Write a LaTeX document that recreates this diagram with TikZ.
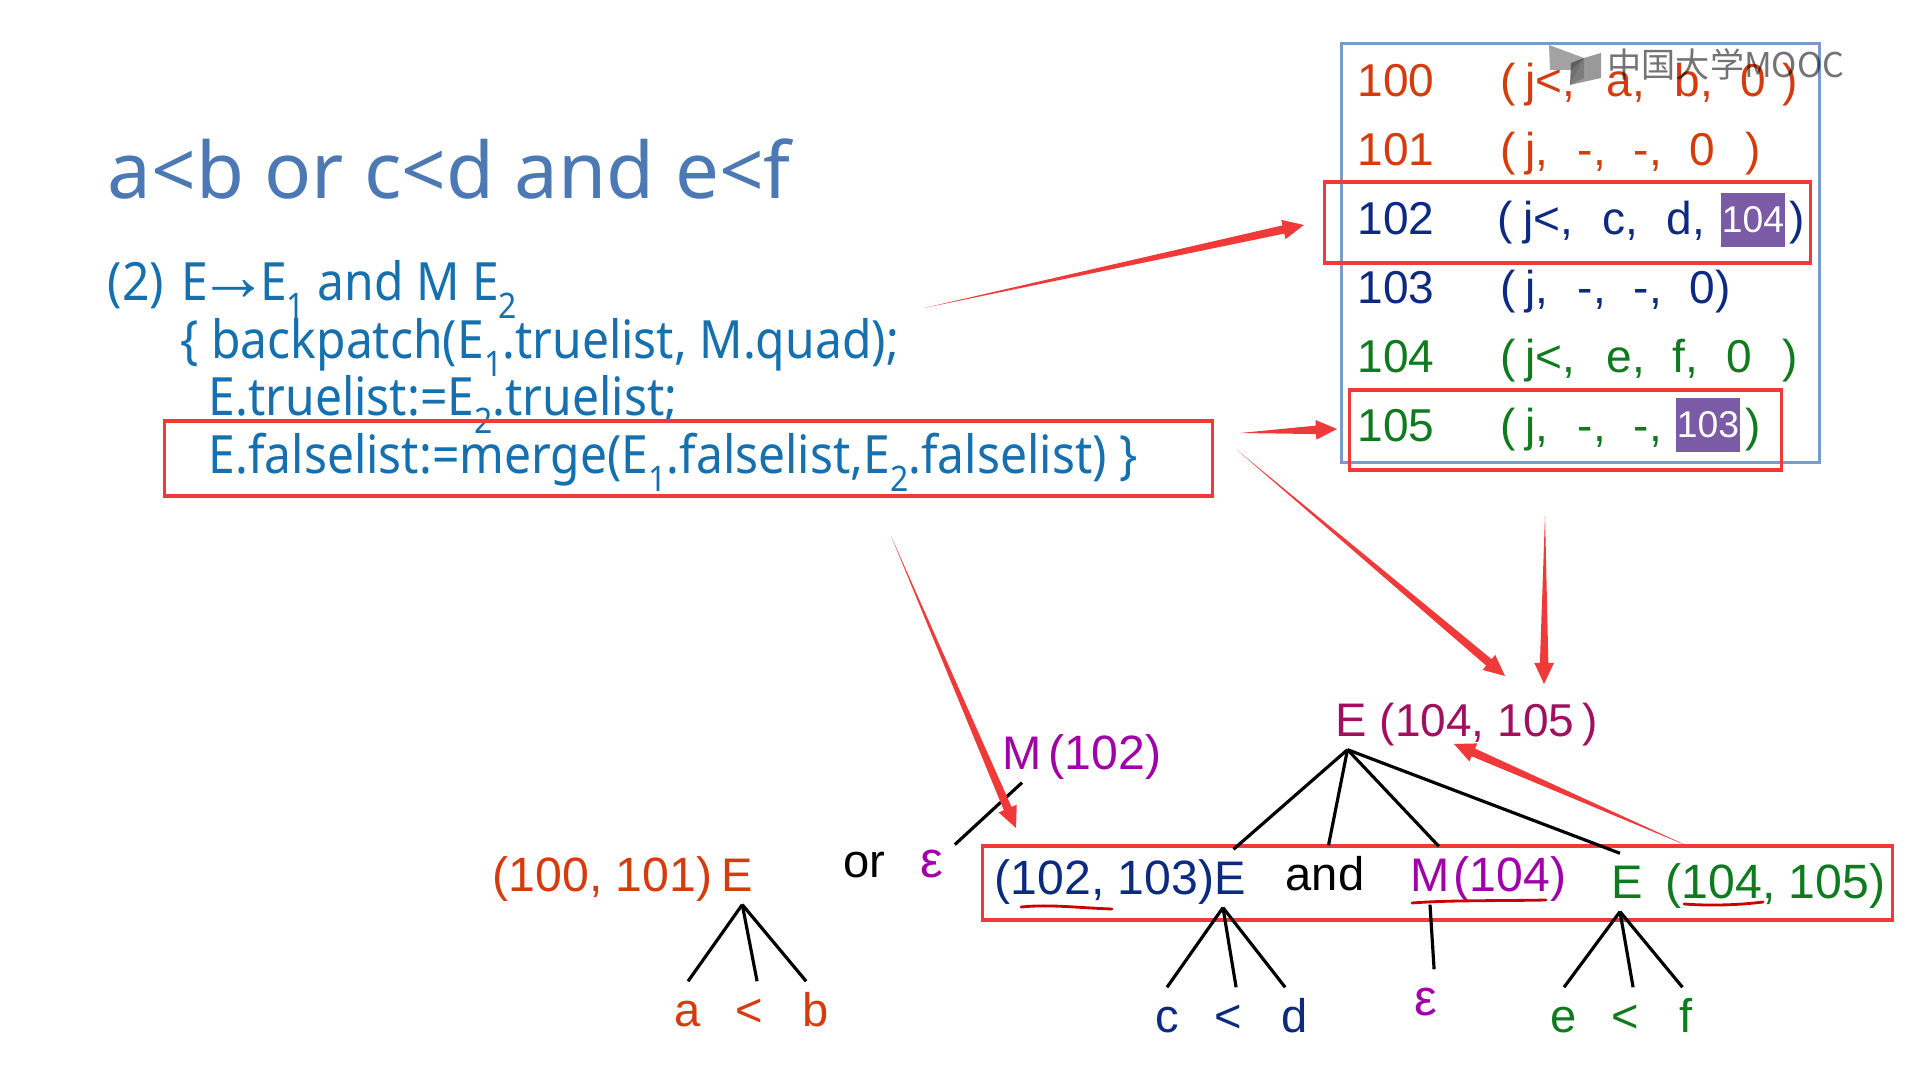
\documentclass[tikz,border=0pt]{standalone}
\usepackage{fontspec}
\setmainfont{Liberation Sans}
\newfontfamily\notofont{Noto Sans}
\newfontfamily\codefont[FakeStretch=0.91]{Noto Sans}
\newfontfamily\cjkfont{Noto Sans CJK SC}
\usetikzlibrary{calc}
\definecolor{titleblue}{HTML}{4C79B4}
\definecolor{bodyblue}{HTML}{1670AE}
\definecolor{frameblue}{HTML}{7A9AC8}
\definecolor{redmark}{HTML}{F03A3A}
\definecolor{orangetxt}{HTML}{D43C0E}
\definecolor{navytxt}{HTML}{0B2A80}
\definecolor{greentxt}{HTML}{0F7A1E}
\definecolor{purpletxt}{HTML}{A000A8}
\definecolor{maroontxt}{HTML}{A0105E}
\definecolor{patchpurple}{HTML}{7B5AA6}
\newlength\pxu
\setlength\pxu{0.01cm}
\newcommand{\tok}[2]{\makebox[#1\pxu][l]{#2}}
\newcommand{\lowsub}[1]{\raisebox{-0.33em}{\fontsize{10}{10}\selectfont #1}}
\newcommand{\taperarrow}[4]{%
  \coordinate (neck) at ($(#2)!6pt!(#1)$);
  \fill[redmark] (#1) -- ($(neck)!#3!90:(#1)$) -- ($(neck)!#4!90:(#1)$) -- (#2)
    -- ($(neck)!#4!-90:(#1)$) -- ($(neck)!#3!-90:(#1)$) -- cycle;}

\begin{document}
\begin{tikzpicture}[x=0.01cm, y=-0.01cm,
  redbox/.style={draw=redmark, line width=0.9pt, inner sep=0pt},
  rowtext/.style={anchor=base west, inner sep=0pt, font=\fontsize{13.1}{13.1}\selectfont},
  pairtext/.style={anchor=base west, inner sep=0pt, font=\fontsize{13.7}{13.7}\selectfont},
  codetext/.style={anchor=base west, inner sep=0pt, text=bodyblue, font=\codefont\fontsize{15}{15}\selectfont},
  patch/.style={fill=patchpurple, text=white, inner sep=0pt, minimum width=0.64cm, minimum height=0.54cm, font=\fontsize{10.6}{10.6}\selectfont},
  sym/.style={anchor=base, inner xsep=0pt, inner ysep=3.4pt, text height=9.4pt, text depth=0pt, font=\fontsize{13.4}{13.4}\selectfont},
  epsnode/.style={sym, text=purpletxt, font=\fontsize{14.5}{14.5}\selectfont},
  edge/.style={draw=black, line width=0.9pt},
  pen/.style={draw=red!80!black, line width=0.8pt, line cap=round}]
  \useasboundingbox (0,0) rectangle (1906,1080);

  % table of quads
  \node[draw=frameblue, line width=0.8pt, inner sep=0pt, minimum width=4.77cm, minimum height=4.18cm] (quads) at (1580.5,253) {};
  \node[rowtext, text=orangetxt] (n100) at (1357,97)  {100};
  \node[rowtext, text=orangetxt] (n101) at (1357,166) {101};
  \node[rowtext, text=navytxt]   (n102) at (1357,235) {102};
  \node[rowtext, text=navytxt]   (n103) at (1357,304) {103};
  \node[rowtext, text=greentxt]  (n104) at (1357,373) {104};
  \node[rowtext, text=greentxt]  (n105) at (1357,442) {105};
  \node[rowtext, text=orangetxt] (q100) at (1500,97)  {\tok{25}{(}\tok{81}{j<,}\tok{68}{a,}\tok{66}{b,}\tok{42}{0})};
  \node[rowtext, text=orangetxt] (q101) at (1500,166) {\tok{25}{(}\tok{52}{j,}\tok{56}{-,}\tok{56}{-,}\tok{56}{0})};
  \node[rowtext, text=navytxt]   (q102) at (1497,235) {\tok{26}{(}\tok{79}{j<,}\tok{64}{c,}\tok{123}{d,})};
  \node[rowtext, text=navytxt]   (q103) at (1500,304) {\tok{25}{(}\tok{52}{j,}\tok{56}{-,}\tok{56}{-,}0)};
  \node[rowtext, text=greentxt]  (q104) at (1500,373) {\tok{25}{(}\tok{81}{j<,}\tok{66}{e,}\tok{54}{f,}\tok{56}{0})};
  \node[rowtext, text=greentxt]  (q105) at (1500,442) {\tok{25}{(}\tok{52}{j,}\tok{56}{-,}\tok{112}{-,})};
  \node[patch] (fill104) at (1753,220) {104};
  \node[patch] (fill103) at (1708,425) {103};

  % formula text
  \node[anchor=base west, inner sep=0pt, text=titleblue, font=\notofont\fontsize{22.2}{22.2}\selectfont] (title) at (107,199) {a<b or c<d and e<f};
  \node[codetext] (rule)  at (107,301) {(2)\kern1.4pt{} E\kern-2.6pt{\rmfamily\fontsize{20}{20}\selectfont →}\kern-2.6pt E\lowsub{1} and M E\lowsub{2}};
  \node[codetext] (act1)  at (180,359) {\{ backpatch(E\lowsub{1}.truelist, M.quad);};
  \node[codetext] (act2)  at (208,416) {E.truelist:=E\lowsub{2}.truelist;};
  \node[codetext] (act3)  at (208,474) {E.falselist:=merge(E\lowsub{1}.falselist,E\lowsub{2}.falselist) \}};

  % red frames
  \node[redbox, minimum width=4.85cm,  minimum height=0.81cm] (box102)   at (1567.5,222.5) {};
  \node[redbox, minimum width=4.31cm,  minimum height=0.80cm] (box105)   at (1565.5,430) {};
  \node[redbox, minimum width=10.47cm, minimum height=0.75cm] (boxmerge) at (688.5,458.5) {};
  \node[redbox, minimum width=9.09cm,  minimum height=0.74cm] (boxrow)   at (1437.5,883) {};

  % left subtree
  \node[pairtext, text=orangetxt] (pairE1) at (492,892) {(100, 101)};
  \node[sym, text=orangetxt] (e1) at (737,892) {E};
  \node[sym, text=orangetxt] (a)  at (688,1027) {a};
  \node[sym, text=orangetxt] (lt1) at (749,1027) {<};
  \node[sym, text=orangetxt] (b)  at (816,1027) {b};
  \node[sym] (orword) at (864,878) {or};
  \node[epsnode] (eps1) at (932,878) {ε};
  \node[sym, text=purpletxt] (m1) at (1022,770) {M};
  \node[pairtext, text=purpletxt] (quadM1) at (1048,770) {(102)};

  % top of the right subtree
  \node[sym, text=maroontxt] (e0) at (1351,737) {E};
  \node[rowtext, text=maroontxt] (pairE0) at (1379,737) {(104, 105\,)};

  % right subtree
  \node[pairtext, text=navytxt] (pairE2) at (994,895) {(102, 103)};
  \node[sym, text=navytxt] (e2) at (1230,895) {E};
  \node[sym] (andword) at (1325,891) {and};
  \node[sym, text=purpletxt] (m2) at (1430,892) {M};
  \node[pairtext, text=purpletxt] (quadM2) at (1453,892) {(104)};
  \node[sym, text=greentxt] (e3) at (1627,899) {E};
  \node[pairtext, text=greentxt] (pairE3) at (1665,899) {(104, 105)};
  \node[sym, text=navytxt] (c)  at (1167,1033) {c};
  \node[sym, text=navytxt] (lt2) at (1228,1033) {<};
  \node[sym, text=navytxt] (d)  at (1295,1033) {d};
  \node[epsnode] (eps2) at (1426,1015) {ε};
  \node[sym, text=greentxt] (ee) at (1564,1033) {e};
  \node[sym, text=greentxt] (lt3) at (1625,1033) {<};
  \node[sym, text=greentxt] (f)  at (1686,1033) {f};

  % tree edges
  \coordinate (top1) at ([xshift=1.5pt]e1.south);
  \coordinate (top2) at ([xshift=-2pt]e2.south);
  \coordinate (top3) at ([xshift=-2pt]e3.south);
  \draw[edge] (top1) -- (a.north);
  \draw[edge] (top1) -- ([xshift=2.3pt]lt1.north);
  \draw[edge] (top1) -- ([xshift=-2.8pt]b.north);
  \draw[edge] (top2) -- (c.north);
  \draw[edge] (top2) -- ([xshift=2.3pt]lt2.north);
  \draw[edge] (top2) -- ([xshift=-2.8pt]d.north);
  \draw[edge] (top3) -- (ee.north);
  \draw[edge] (top3) -- ([xshift=2.3pt]lt3.north);
  \draw[edge] (top3) -- ([xshift=-1pt]f.north);
  \draw[edge] (m1.south) -- ([xshift=6.5pt,yshift=-3.5pt]eps1.north);
  \draw[edge] (m2.south) -- ([xshift=2.3pt]eps2.north);
  \draw[edge] ([xshift=-1pt]e0.south) -- ([xshift=1pt]e2.north);
  \draw[edge] ([xshift=-1pt]e0.south) -- ([xshift=1pt]andword.north);
  \draw[edge] ([xshift=-1pt]e0.south) -- ([xshift=2.5pt]m2.north);
  \draw[edge] ([xshift=-1pt]e0.south) -- ([xshift=-2pt]e3.north);

  % handwritten underlines
  \draw[pen] (1021,907) .. controls (1050,904) and (1080,908) .. (1112,909);
  \draw[pen] (1412,903) .. controls (1450,900) and (1500,901) .. (1546,900);
  \draw[pen] (1684,904) .. controls (1710,906) and (1740,905) .. (1763,902);

  % red arrows
  \coordinate (fromrule) at (924,308);
  \coordinate (to102)    at (1304,225);
  \coordinate (frommerge) at (1240,433);
  \coordinate (to105)    at (1337,429);
  \coordinate (fromfalse) at (1237,450);
  \coordinate (toE0a)    at (1505,676);
  \coordinate (fromquad) at (1545,515);
  \coordinate (toE0b)    at (1544,684);
  \coordinate (fromlist) at (891,536);
  \coordinate (toE2)     at (1016,828);
  \coordinate (fromE3)   at (1690,847);
  \coordinate (toE0c)    at (1454,744);
  \taperarrow{fromrule}{to102}{1.2pt}{2.8pt}
  \taperarrow{frommerge}{to105}{1.2pt}{2.8pt}
  \taperarrow{fromfalse}{toE0a}{1.2pt}{2.8pt}
  \taperarrow{fromquad}{toE0b}{1.2pt}{2.8pt}
  \taperarrow{fromlist}{toE2}{1.2pt}{2.8pt}
  \taperarrow{fromE3}{toE0c}{1.2pt}{2.8pt}

  % watermark
  \fill[black!45, opacity=0.8] (1549,45) -- (1584,58) -- (1571,70) -- (1550,70) -- cycle;
  \fill[black!70, opacity=0.8] (1584,58) -- (1571,63) -- (1570,85) -- (1584,78) -- cycle;
  \fill[black!50, opacity=0.8] (1584,58) -- (1601,53) -- (1601,78) -- (1570,85) -- cycle;
  \node[anchor=base west, inner sep=0pt, text=black, opacity=0.55, font=\cjkfont\fontsize{9.7}{9.7}\selectfont] (logo) at (1607,78) {中国大学MOOC};
\end{tikzpicture}
\end{document}
